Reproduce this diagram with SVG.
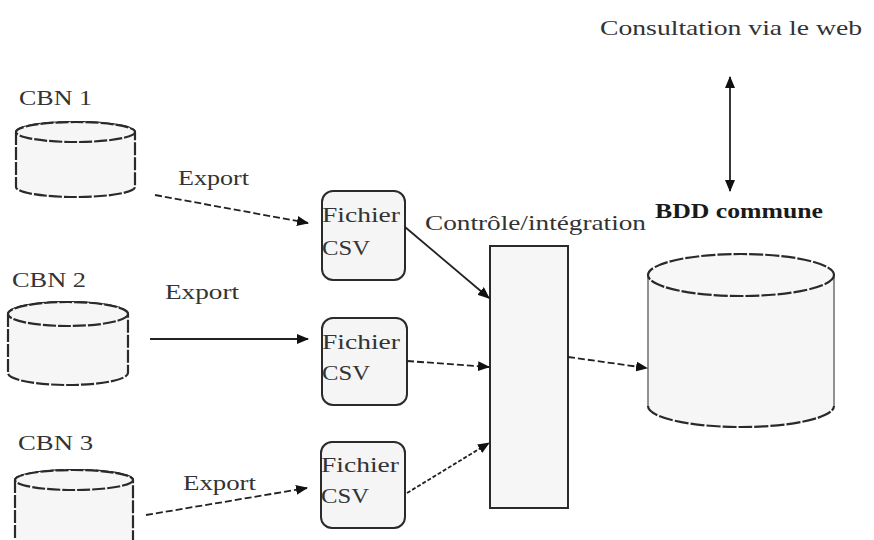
<svg xmlns="http://www.w3.org/2000/svg" width="874" height="540" viewBox="0 0 874 540">
<defs>
<style>
.t{font-family:"Liberation Serif","Times New Roman",serif;font-size:21px;fill:#333}
.b{font-family:"Liberation Serif","Times New Roman",serif;font-size:21px;font-weight:bold;fill:#1a1a1a}
.cyl{fill:#f6f6f6;stroke:#2a2a2a;stroke-width:2.2;stroke-dasharray:13 2}
.side{stroke:#777;stroke-width:1.6;fill:none}
.box{fill:#f5f5f5;stroke:#2a2a2a;stroke-width:2}
.ctl{fill:#f6f6f6;stroke:#2a2a2a;stroke-width:2}
.c{stroke:#222;stroke-width:1.8;fill:none}
.d{stroke-dasharray:7 3}
</style>
<marker id="ah" viewBox="0 0 12 10" refX="11" refY="5" markerWidth="12" markerHeight="10" markerUnits="userSpaceOnUse" orient="auto-start-reverse">
<path d="M0,0 L12,5 L0,10 Z" fill="#111"/>
</marker>
</defs>
<rect width="874" height="540" fill="#fff"/>

<g id="web-label">
<text class="t" x="600" y="35" textLength="262" lengthAdjust="spacingAndGlyphs">Consultation via le web</text>
</g>

<g id="cbn1">
<text class="t" x="19" y="105" textLength="73" lengthAdjust="spacingAndGlyphs">CBN 1</text>
<path class="cyl" d="M16,132 L16,187 A59.5,10 0 0 0 135,187 L135,132 A59.5,10 0 0 0 16,132 Z"/>
<ellipse class="cyl" cx="75.5" cy="132" rx="59.5" ry="10"/>
</g>

<g id="cbn2">
<text class="t" x="12" y="287" textLength="74" lengthAdjust="spacingAndGlyphs">CBN 2</text>
<path class="cyl" d="M8,314 L8,373 A60,12 0 0 0 128,373 L128,314 A60,12 0 0 0 8,314 Z"/>
<ellipse class="cyl" cx="68" cy="314" rx="60" ry="12"/>
</g>

<g id="cbn3">
<text class="t" x="18" y="450" textLength="75" lengthAdjust="spacingAndGlyphs">CBN 3</text>
<path class="cyl" d="M15,480 L15,548 A59,10 0 0 0 133,548 L133,480 A59,10 0 0 0 15,480 Z"/>
<ellipse class="cyl" cx="74" cy="480" rx="59" ry="10"/>
</g>

<g id="export-labels">
<text class="t" x="178" y="185" textLength="71" lengthAdjust="spacingAndGlyphs">Export</text>
<text class="t" x="165" y="299" textLength="74" lengthAdjust="spacingAndGlyphs">Export</text>
<text class="t" x="183" y="490" textLength="73" lengthAdjust="spacingAndGlyphs">Export</text>
</g>

<g id="csv1">
<rect class="box" x="322" y="191" width="83" height="89" rx="11"/>
<text class="t" x="322" y="222" textLength="78" lengthAdjust="spacingAndGlyphs">Fichier</text>
<text class="t" x="322" y="255" textLength="48" lengthAdjust="spacingAndGlyphs">CSV</text>
</g>

<g id="csv2">
<rect class="box" x="322" y="318" width="85" height="87" rx="11"/>
<text class="t" x="322" y="349" textLength="78" lengthAdjust="spacingAndGlyphs">Fichier</text>
<text class="t" x="322" y="380" textLength="48" lengthAdjust="spacingAndGlyphs">CSV</text>
</g>

<g id="csv3">
<rect class="box" x="321" y="442" width="84" height="86" rx="11"/>
<text class="t" x="321" y="472" textLength="78" lengthAdjust="spacingAndGlyphs">Fichier</text>
<text class="t" x="321" y="503" textLength="48" lengthAdjust="spacingAndGlyphs">CSV</text>
</g>

<g id="controle">
<text class="t" x="425" y="230" textLength="221" lengthAdjust="spacingAndGlyphs">Contrôle/intégration</text>
<rect class="ctl" x="490" y="246" width="78" height="262"/>
</g>

<g id="bdd">
<text class="b" x="655" y="218" textLength="168" lengthAdjust="spacingAndGlyphs">BDD commune</text>
<path d="M648,275 L648,406 A93,21 0 0 0 834,406 L834,275 A93,21 0 0 0 648,275 Z" fill="#f6f6f6"/>
<line class="side" x1="648" y1="275" x2="648" y2="406"/>
<line class="side" x1="834" y1="275" x2="834" y2="406"/>
<path d="M648,406 A93,21 0 0 0 834,406" fill="none" stroke="#2a2a2a" stroke-width="2.2" stroke-dasharray="14 2"/>
<ellipse cx="741" cy="275" rx="93" ry="21" fill="#f7f7f7" stroke="#2a2a2a" stroke-width="2.2" stroke-dasharray="14 2"/>
</g>

<g id="connectors">
<line class="c d" x1="155" y1="195" x2="308" y2="223" marker-end="url(#ah)"/>
<line class="c" x1="150" y1="339" x2="308" y2="339" stroke="#555" marker-end="url(#ah)"/>
<line class="c d" x1="146" y1="515" x2="307" y2="488" marker-end="url(#ah)"/>
<line class="c" x1="405" y1="227" x2="489" y2="298" marker-end="url(#ah)"/>
<line class="c d" x1="407" y1="361" x2="489" y2="367" marker-end="url(#ah)"/>
<line class="c" x1="407" y1="493" x2="489" y2="443" stroke-dasharray="4 2" marker-end="url(#ah)"/>
<line class="c d" x1="568" y1="357" x2="647" y2="368" marker-end="url(#ah)"/>
<line class="c" x1="730" y1="77" x2="730" y2="191" marker-start="url(#ah)" marker-end="url(#ah)"/>
</g>
</svg>
